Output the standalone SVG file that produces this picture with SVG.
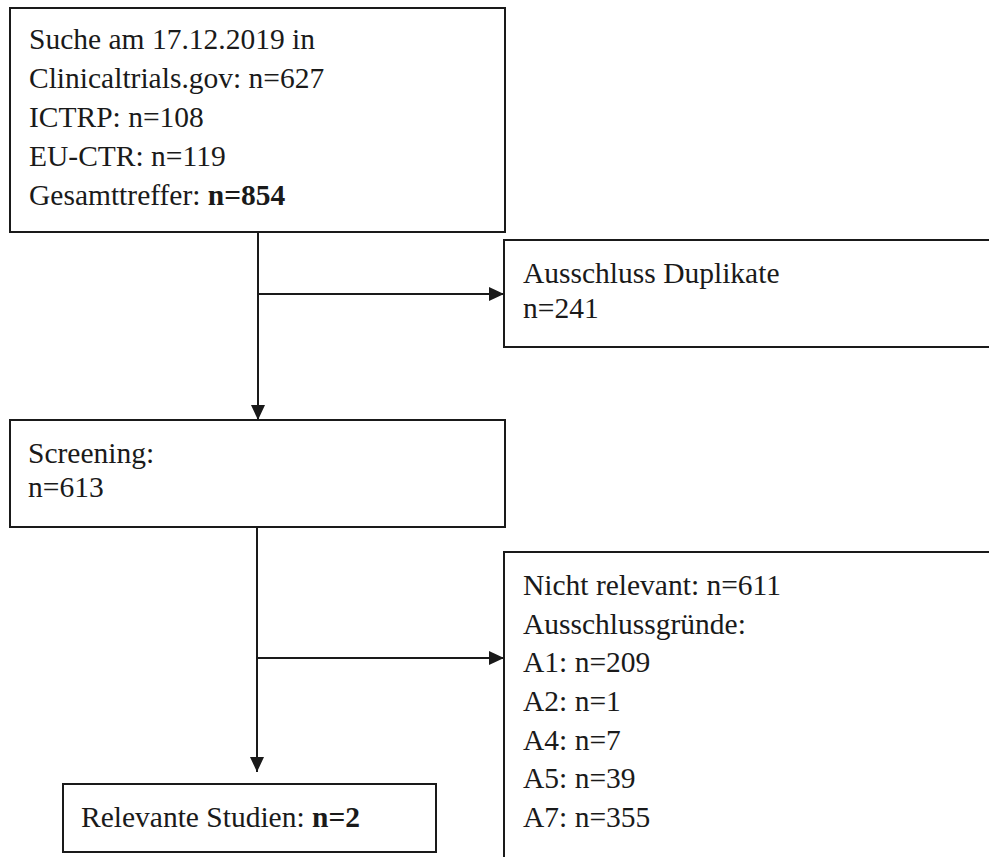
<svg xmlns="http://www.w3.org/2000/svg" width="989" height="857" viewBox="0 0 989 857">
  <style>
    .box { fill: #ffffff; stroke: #1a1a1a; stroke-width: 2; }
    .conn { fill: none; stroke: #1a1a1a; stroke-width: 2; }
    text { font-family: "Liberation Serif", "Times New Roman", serif; font-size: 29.5px; fill: #1a1a1a; }
    .b { font-weight: bold; }
  </style>
  <defs>
    <marker id="arrow" markerUnits="userSpaceOnUse" markerWidth="16" markerHeight="14" refX="15" refY="7" orient="auto">
      <path d="M0,0 L15,7 L0,14 Z" fill="#1a1a1a"/>
    </marker>
  </defs>
  <rect width="989" height="857" fill="#ffffff"/>

  <g id="connectors">
    <line class="conn" x1="258" y1="232" x2="258" y2="420" marker-end="url(#arrow)"/>
    <line class="conn" x1="258" y1="294" x2="504" y2="294" marker-end="url(#arrow)"/>
    <line class="conn" x1="257" y1="527" x2="257" y2="772" marker-end="url(#arrow)"/>
    <line class="conn" x1="257" y1="658" x2="504" y2="658" marker-end="url(#arrow)"/>
  </g>

  <g id="search">
    <rect class="box" x="10" y="8" width="495" height="224"/>
    <text x="29" y="49">Suche am 17.12.2019 in</text>
    <text x="29" y="88">Clinicaltrials.gov: n=627</text>
    <text x="29" y="127">ICTRP: n=108</text>
    <text x="29" y="166">EU-CTR: n=119</text>
    <text x="29" y="205">Gesamttreffer: <tspan class="b">n=854</tspan></text>
  </g>

  <g id="duplicates">
    <rect class="box" x="504" y="240" width="500" height="107"/>
    <text x="523" y="283">Ausschluss Duplikate</text>
    <text x="523" y="318">n=241</text>
  </g>

  <g id="screening">
    <rect class="box" x="10" y="420" width="495" height="107"/>
    <text x="28" y="463">Screening:</text>
    <text x="28" y="497">n=613</text>
  </g>

  <g id="excluded">
    <rect class="box" x="504" y="552" width="500" height="400"/>
    <text x="523" y="595">Nicht relevant: n=611</text>
    <text x="523" y="634">Ausschlussgründe:</text>
    <text x="523" y="672">A1: n=209</text>
    <text x="523" y="711">A2: n=1</text>
    <text x="523" y="750">A4: n=7</text>
    <text x="523" y="788">A5: n=39</text>
    <text x="523" y="827">A7: n=355</text>
  </g>

  <g id="relevant">
    <rect class="box" x="63" y="784" width="373" height="68"/>
    <text x="81" y="827">Relevante Studien: <tspan class="b">n=2</tspan></text>
  </g>
</svg>
